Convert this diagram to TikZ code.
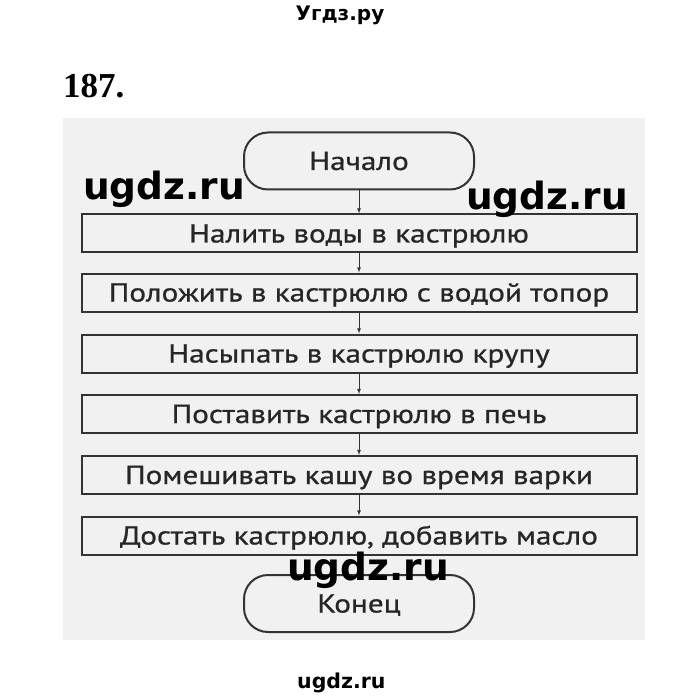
\documentclass[tikz,border=0pt]{standalone}
\usepackage{fontspec}
\setmainfont{PT Sans}[FakeStretch=1.2,FakeBold=0.8]
\newfontfamily\markfont{DejaVu Sans}
\newfontfamily\numfont{Liberation Serif}
\usetikzlibrary{arrows}
\definecolor{boxline}{HTML}{333333}
\definecolor{boxtext}{HTML}{262626}
\definecolor{sheet}{HTML}{F1F1F1}
\tikzset{
	stepbox/.style={draw=boxline,line width=2pt,minimum width=555pt,minimum height=38pt,
		inner sep=0pt,text=boxtext,font=\fontsize{26}{26}\selectfont,text height=18pt,text depth=0pt},
	endbox/.style={stepbox,minimum width=230pt,minimum height=57pt,rounded corners=24pt},
	flow/.style={draw=boxline,line width=0.8pt,-latex},
	watermark/.style={font=\markfont\bfseries\fontsize{37.5}{37.5}\selectfont,anchor=base west,inner sep=0pt}
}

\begin{document}
\begin{tikzpicture}[x=1pt,y=-1pt]
		\useasboundingbox (0,0) rectangle (680,700);
		\fill[sheet] (63,118) rectangle (645,640);
		\node[font=\markfont\bfseries\fontsize{20}{20}\selectfont,anchor=base,inner sep=0pt] (site) at (340,21) {Угдз.ру};
		\node[font=\numfont\bfseries\fontsize{35}{35}\selectfont,anchor=base west,inner sep=0pt] (num) at (63,98) {187.};
		\node[endbox] (start) at (359,161) {Начало};
		\node[stepbox] (s1) at (359,233.5) {Налить воды в кастрюлю};
		\node[stepbox] (s2) at (359,292.5) {Положить в кастрюлю с водой топор};
		\node[stepbox] (s3) at (359,353.5) {Насыпать в кастрюлю крупу};
		\node[stepbox] (s4) at (359,414) {Поставить кастрюлю в печь};
		\node[stepbox] (s5) at (359,475) {Помешивать кашу во время варки};
		\node[stepbox] (s6) at (359,535.5) {Достать кастрюлю, добавить масло};
		\node[endbox] (stop) at (359,603.5) {Конец};
		\foreach \a/\b in {start/s1,s1/s2,s2/s3,s3/s4,s4/s5,s5/s6,s6/stop}
		\draw[flow] (\a) -- (\b);
		% watermarks
		\node[watermark] (w1) at (83,200) {ugdz.ru};
		\node[watermark] (w2) at (466,210) {ugdz.ru};
		\node[watermark] (w3) at (287,580) {ugdz.ru};
		\node[watermark,font=\markfont\bfseries\fontsize{20.5}{20.5}\selectfont] (w4) at (297,688) {ugdz.ru};
	\end{tikzpicture}
\end{document}
